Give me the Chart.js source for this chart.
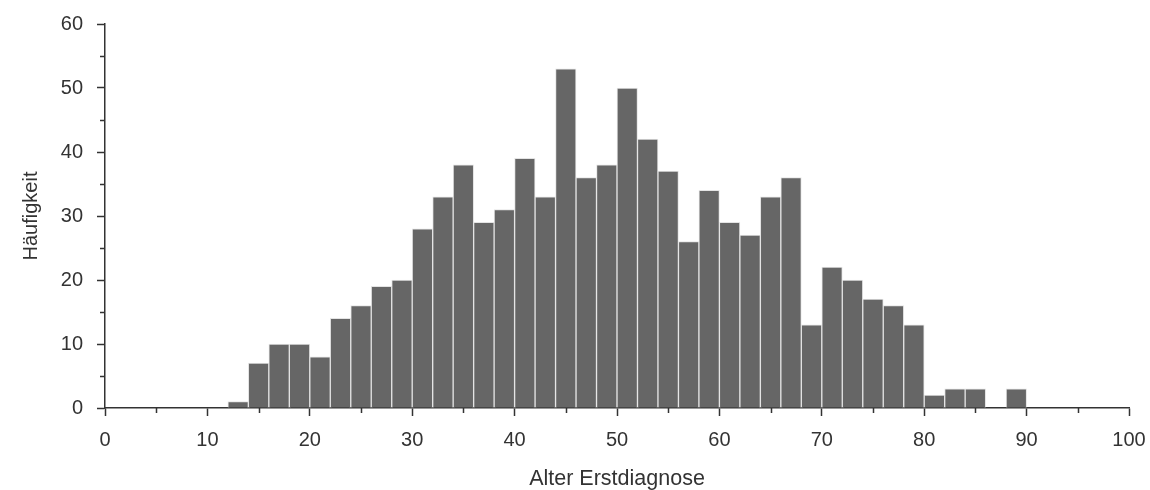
<!DOCTYPE html>
<html>
<head>
<meta charset="utf-8">
<script src="https://cdn.jsdelivr.net/npm/chart.js@4/dist/chart.umd.min.js"></script>
<style>
  html, body { margin: 0; padding: 0; background: #fff; }
  #wrap { width: 1150px; height: 490px; position: relative; }
</style>
</head>
<body>
<div id="wrap"><canvas id="histChart"></canvas></div>
<script>
// ── DATA ── (bin centres, bins are 2 years wide)
const ageBins = [13, 15, 17, 19, 21, 23, 25, 27, 29, 31, 33, 35, 37, 39, 41, 43, 45, 47, 49, 51,
                 53, 55, 57, 59, 61, 63, 65, 67, 69, 71, 73, 75, 77, 79, 81, 83, 85, 87, 89];
const counts  = [1, 7, 10, 10, 8, 14, 16, 19, 20, 28, 33, 38, 29, 31, 39, 33, 53, 36, 38, 50,
                 42, 37, 26, 34, 29, 27, 33, 36, 13, 22, 20, 17, 16, 13, 2, 3, 3, 0, 3];
const xTicks  = [0, 10, 20, 30, 40, 50, 60, 70, 80, 90, 100];
const yTicks  = [0, 10, 20, 30, 40, 50, 60];

const axisColor = '#333333';
const textColor = '#333333';
const font = { family: 'Liberation Sans, Arial, sans-serif', size: 20, lineHeight: 1 };
const xTitleFont = { family: 'Liberation Sans, Arial, sans-serif', size: 21.5, lineHeight: 1 };

// short minor ticks at the 5-steps
const minorTicks = {
  id: 'minorTicks',
  afterDraw(chart) {
    const { ctx, scales: { x, y } } = chart;
    ctx.save();
    ctx.strokeStyle = axisColor;
    ctx.lineWidth = 1.5;
    ctx.beginPath();
    for (let v = 5; v < 100; v += 10) {
      const px = Math.round(x.getPixelForValue(v)) + 0.5;
      ctx.moveTo(px, x.top);
      ctx.lineTo(px, x.top + 5);
    }
    for (let v = 5; v < 60; v += 10) {
      const py = Math.round(y.getPixelForValue(v)) + 0.5;
      ctx.moveTo(y.right, py);
      ctx.lineTo(y.right - 5, py);
    }
    ctx.stroke();
    ctx.restore();
  }
};

const majorOnly = list => c => (c.tick && list.includes(c.tick.value)) ? axisColor : 'rgba(0,0,0,0)';

new Chart(document.getElementById('histChart').getContext('2d'), {
  type: 'bar',
  data: {
    datasets: [{
      data: ageBins.map((a, i) => ({ x: a, y: counts[i] })),
      backgroundColor: '#666666',
      borderColor: '#e4e4e4',
      borderWidth: 1,
      barPercentage: 1,
      categoryPercentage: 1
    }]
  },
  options: {
    responsive: true,
    maintainAspectRatio: false,
    animation: false,
    layout: { padding: { left: 0, right: 21, top: 21, bottom: 0 } },
    plugins: { legend: { display: false }, tooltip: { enabled: false } },
    scales: {
      x: {
        type: 'linear',
        min: 0, max: 100,
        offset: false,
        afterFit: s => { s.height = 82; s.paddingRight = 0; s.paddingLeft = 0; },
        border: { color: axisColor, width: 1.5 },
        grid: { drawOnChartArea: false, offset: false, tickLength: 8, tickWidth: 1.5, tickColor: majorOnly(xTicks) },
        ticks: {
          stepSize: 5,
          padding: 14,
          maxRotation: 0,
          autoSkip: false,
          color: textColor,
          font,
          callback: v => xTicks.includes(v) ? v : ''
        },
        title: { display: true, text: 'Alter Erstdiagnose', color: textColor, font: xTitleFont, padding: { top: 0, bottom: 0 } }
      },
      y: {
        min: 0, max: 60,
        afterFit: s => { s.width = 105; },
        border: { color: axisColor, width: 1.5 },
        grid: { drawOnChartArea: false, tickLength: 8, tickWidth: 1.5, tickColor: majorOnly(yTicks) },
        ticks: {
          stepSize: 5,
          padding: 14,
          autoSkip: false,
          color: textColor,
          font,
          callback: v => yTicks.includes(v) ? v : ''
        },
        title: { display: true, text: 'Häufigkeit', color: textColor, font, padding: { top: 21, bottom: 0 } }
      }
    }
  },
  plugins: [minorTicks]
});
</script>
</body>
</html>
